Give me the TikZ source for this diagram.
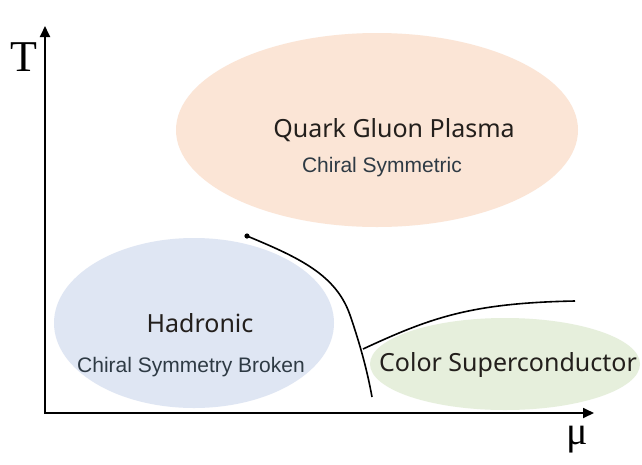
\documentclass[tikz,border=0pt]{standalone}
\usepackage{fontspec}
\setmainfont{Liberation Serif}
\setsansfont{Liberation Sans}
\newfontfamily\labelfont{Noto Sans}
\usetikzlibrary{arrows.meta}
\definecolor{qgpfill}{HTML}{FBE5D6}
\definecolor{hadfill}{HTML}{DFE6F3}
\definecolor{csfill}{HTML}{E6EFDC}
\definecolor{labelink}{HTML}{231F1C}
\definecolor{subink}{HTML}{2E3A44}
\tikzset{
  axis/.style={line width=1.8pt, -{Triangle[length=11pt,width=10pt]}},
  boundary/.style={line width=1.6pt},
  mainlabel/.style={font=\labelfont\fontsize{25}{28}\selectfont, text=labelink, inner sep=0pt},
  sublabel/.style={font=\sffamily\fontsize{21}{24}\selectfont, text=subink, inner sep=0pt},
}
\begin{document}
\begin{tikzpicture}[x=1pt,y=-1pt]
  \useasboundingbox (0,0) rectangle (642,464);
  \fill[white] (0,0) rectangle (642,464);

  % phase regions
  \fill[qgpfill] (377,130) ellipse [x radius=201, y radius=97];
  \fill[hadfill] (194,323) ellipse [x radius=140, y radius=85];
  \fill[csfill] (505,364) ellipse [x radius=135, y radius=46];

  % region labels
  \node[mainlabel] (qgp) at (394,130) {Quark Gluon Plasma};
  \node[sublabel] (qgpsub) at (382,167) {Chiral Symmetric};
  \node[mainlabel] (had) at (200,323) {Hadronic};
  \node[sublabel] (hadsub) at (191,367) {Chiral Symmetry Broken};
  \node[mainlabel] (cs) at (508,365) {Color Superconductor};

  % axes
  \coordinate (origin) at (45,413);
  \coordinate (tend) at (45,26);
  \coordinate (muend) at (594,413);
  \draw[axis] (origin) -- (tend);
  \draw[axis] ([xshift=-0.9pt]origin) -- (muend);
  \node[font=\fontsize{44}{44}\selectfont, inner sep=0pt] (tlabel) at (24,57) {T};
  \node[font=\fontsize{40}{40}\selectfont, inner sep=0pt] (mulabel) at (577,440) {μ};

  % phase boundaries
  \coordinate (cep) at (247,236);
  \coordinate (bend) at (363,349);
  \coordinate (lowend) at (372,397);
  \coordinate (csend) at (575,301);
  \fill (cep) circle (2.6pt);
  \draw[boundary] (cep) .. controls (300,258) and (336,275) .. (350,315)
                        .. controls (362,350) and (368,375) .. (lowend);
  \draw[boundary] (bend) .. controls (430,318) and (470,303) .. (csend);
\end{tikzpicture}
\end{document}
